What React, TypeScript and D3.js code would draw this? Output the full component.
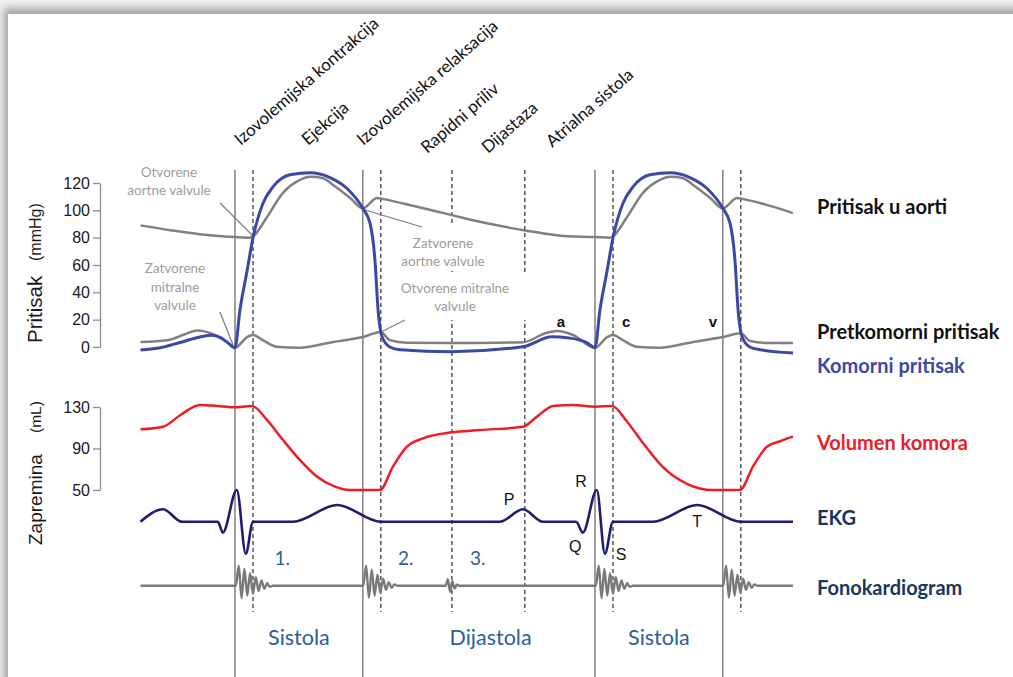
import React, { useEffect, useRef } from "react";
import * as d3 from "d3";

const W = 1013;
const H = 677;

// Time axis in ms, measured from mitral valve closure of the first beat
const timeDomain: [number, number] = [-210, 1240];
const pressureTicks = [0, 20, 40, 60, 80, 100, 120];
const volumeTicks = [50, 90, 130];

// Event markers (ms)
const valveEvents = [0, 284, 800, 1084];
const phaseBoundaries = [40, 324, 482, 644, 840, 1124];

// Aortic pressure (mmHg)
const aorticPressure: [number, number][] = [
  [-210, 89], [-144, 85.5], [-78, 82.5], [0, 80.5], [33, 80], [40, 81],
  [71, 95], [107, 113], [140, 121.5], [168, 124.5], [196, 123.5], [218, 118.5],
  [256, 109], [284, 101.5], [316, 109], [330, 108.2], [400, 103], [482, 96.5],
  [560, 90.5], [642, 85.5], [738, 81], [800, 80.5], [833, 80], [840, 81],
  [871, 95], [907, 113], [940, 121.5], [968, 124.5], [996, 123.5], [1018, 118.5],
  [1056, 109], [1084, 101.5], [1116, 109], [1130, 108.2], [1240, 98],
];

// Ventricular pressure (mmHg)
const ventricularPressure: [number, number][] = [
  [-210, -2.2], [-170, -0.8], [-120, 3.5], [-78, 7.3], [-52, 8.6], [-32, 6.8],
  [-18, 3.7], [0, -0.5], [11, 27], [27, 56], [40, 80], [62, 105], [84, 117],
  [122, 126], [167, 127.5], [211, 124], [249, 116], [284, 101.5], [300, 90.7],
  [311, 63.6], [318, 27], [327, 7.3], [344, 0], [367, -2], [480, -3.4],
  [640, 0.2], [704, 7.5], [742, 6.6], [782, 3.2], [800, -0.5], [811, 27],
  [827, 56], [840, 80], [862, 105], [884, 117], [922, 126], [967, 127.5],
  [1011, 124], [1049, 116], [1084, 101.5], [1100, 90.7], [1111, 63.6],
  [1118, 27], [1127, 7.3], [1144, 0], [1167, -2], [1240, -4.4],
];

// Left atrial pressure (mmHg)
const atrialPressure: [number, number][] = [
  [-210, 3.7], [-150, 5], [-110, 9.5], [-84, 12], [-50, 9.5], [-18, 3.7],
  [0, -0.5], [27, 7.3], [40, 8.8], [62, 5], [93, 0.2], [144, -0.5], [218, 3.7],
  [284, 7.3], [324, 11], [344, 5], [382, 3.1], [482, 2.9], [640, 3.5],
  [690, 10], [716, 11.7], [751, 8.8], [800, -0.7], [827, 7.3], [840, 8.8],
  [862, 5], [893, 0.2], [944, -0.5], [1018, 3.7], [1084, 7.3], [1124, 10],
  [1144, 4.5], [1180, 3], [1240, 2.9],
];

// Ventricular volume (mL)
const ventricularVolume: [number, number][] = [
  [-210, 108.5], [-160, 111], [-122, 122], [-78, 132], [-40, 131], [-4, 129.7],
  [38, 131], [71, 117.5], [107, 98], [144, 79], [182, 63], [218, 54], [256, 50],
  [322, 50], [351, 72.5], [382, 91.7], [418, 99.8], [482, 105.6], [544, 107.8],
  [640, 111], [671, 120.7], [707, 131], [751, 132], [800, 130.3], [838, 131],
  [871, 116], [907, 95], [951, 72], [1004, 56], [1062, 50], [1122, 50],
  [1151, 72.5], [1182, 91.7], [1211, 97], [1240, 101.4],
];

// ECG (mV)
const ecg: [number, number][] = [
  [-210, 0], [-160, 0.39], [-118, 0], [-38, 0], [-27, -0.34], [4, 0.99],
  [24, -1.0], [40, 0], [129, 0], [227, 0.52], [324, 0], [589, 0], [640, 0.39],
  [684, 0], [758, 0], [773, -0.34], [804, 0.99], [822, -1.0], [840, 0],
  [929, 0], [1027, 0.52], [1124, 0], [1240, 0],
];

// Heart sounds: onset (ms), spacing between extrema (ms), extrema amplitudes
const firstSound = [1.0, -0.62, 0.85, -0.5, 0.62, -0.4, 0.42, -0.26, 0.26, -0.15, 0.12, -0.06];
const secondSound = [1.0, -0.6, 0.8, -0.5, 0.55, -0.35, 0.35, -0.2, 0.18, -0.1, 0.06];
const thirdSound = [0.33, -0.3, 0.22, -0.14, 0.06];
const heartSounds = [
  { onset: 2, step: 6.3, amps: firstSound },
  { onset: 285, step: 6.3, amps: secondSound },
  { onset: 468, step: 5, amps: thirdSound },
  { onset: 802, step: 6.3, amps: firstSound },
  { onset: 1085, step: 6.3, amps: secondSound },
];

const phaseNames = [
  "Izovolemijska kontrakcija",
  "Ejekcija",
  "Izovolemijska relaksacija",
  "Rapidni priliv",
  "Dijastaza",
  "Atrialna sistola",
];
const phaseLabelTimes = [13, 162, 285, 427, 562, 705];

const seriesNames = [
  "Pritisak u aorti",
  "Pretkomorni pritisak",
  "Komorni pritisak",
  "Volumen komora",
  "EKG",
  "Fonokardiogram",
];

const waveLetters = ["a", "c", "v"];
const waveLetterTimes = [724, 869, 1062];
const ecgLetters = ["P", "R", "Q", "S", "T"];
const ecgLetterTimes = [609, 769, 756, 858, 1027];

const soundNumbers = ["1.", "2.", "3."];
const soundNumberTimes = [88, 362, 522];
const cycleNames = ["Sistola", "Dijastola", "Sistola"];
const cycleTimes = [142, 568, 942];

const GRAY = "#808080";
const BLUE = "#3d48a6";
const RED = "#ee1d23";
const NAVY = "#1c1f6e";
const TEXT_BLUE = "#2c5d9c";
const NOTE = "#9c9c9c";
const CAL = "Lato, 'Open Sans', sans-serif";
const ARIAL = "'Liberation Sans', Arial, sans-serif";

const x = d3.scaleLinear().domain(timeDomain).range([140.5, 793]);
const yP = d3.scaleLinear().domain([0, 120]).range([347, 183]);
const yV = d3.scaleLinear().domain([50, 130]).range([490, 407]);
const yE = d3.scaleLinear().domain([-1, 1]).range([553.7, 489.7]);
const yS = d3.scaleLinear().domain([-1, 1]).range([605.7, 565.7]);

function soundTrace(): [number, number][] {
  const pts: [number, number][] = [[timeDomain[0], 0]];
  for (const s of heartSounds) {
    pts.push([s.onset, 0]);
    s.amps.forEach((a, i) => pts.push([s.onset + (i + 1) * s.step, a]));
    pts.push([s.onset + (s.amps.length + 1) * s.step, 0]);
  }
  pts.push([timeDomain[1], 0]);
  return pts;
}

export default function App() {
  const pAxis = useRef<SVGGElement>(null);
  const vAxis = useRef<SVGGElement>(null);

  useEffect(() => {
    const style = (g: d3.Selection<SVGGElement, unknown, null, undefined>) => {
      g.select(".domain").attr("stroke", "#8c8c8c").attr("stroke-width", 1.3);
      g.selectAll(".tick line").attr("stroke", "#8c8c8c").attr("stroke-width", 1.3);
      g.selectAll(".tick text")
        .attr("font-family", ARIAL)
        .attr("font-size", 16)
        .attr("fill", "#1a1a1a");
    };
    const gp = d3.select(pAxis.current!);
    gp.call(d3.axisLeft(yP).tickValues(pressureTicks).tickSize(7).tickSizeOuter(0).tickPadding(3));
    style(gp);
    const gv = d3.select(vAxis.current!);
    gv.call(d3.axisLeft(yV).tickValues(volumeTicks).tickSize(7).tickSizeOuter(0).tickPadding(3));
    style(gv);
  }, []);

  const lineP = d3.line<[number, number]>().x((d) => x(d[0])).y((d) => yP(d[1])).curve(d3.curveMonotoneX);
  const lineV = d3.line<[number, number]>().x((d) => x(d[0])).y((d) => yV(d[1])).curve(d3.curveMonotoneX);
  const lineE = d3.line<[number, number]>().x((d) => x(d[0])).y((d) => yE(d[1])).curve(d3.curveMonotoneX);
  const lineS = d3.line<[number, number]>().x((d) => x(d[0])).y((d) => yS(d[1])).curve(d3.curveMonotoneX);

  const phaseDrop = [146, 146, 146, 154, 154, 148];
  const seriesY = [214, 339, 373, 450, 525, 595];
  const seriesColor = ["#111", "#111", BLUE, RED, "#17375e", "#17375e"];

  return (
    <svg width={W} height={H} style={{ position: "absolute", left: 0, top: 0 }}>
      <defs>
        <filter id="cardShadow" x="-10%" y="-10%" width="120%" height="120%">
          <feGaussianBlur stdDeviation="4" />
        </filter>
      </defs>
      <rect width={W} height={H} fill="#f1f1f1" />
      <rect x={4} y={8} width={W + 40} height={H + 40} fill="#a2a2a2" filter="url(#cardShadow)" />
      <rect x={8} y={14} width={W} height={H} fill="#ffffff" />

      {/* phase names */}
      {phaseNames.map((t, i) => (
        <text
          key={t}
          transform={`translate(${x(phaseLabelTimes[i])},${phaseDrop[i]}) rotate(-41)`}
          fontFamily={CAL}
          fontSize={17}
          fill="#111"
        >
          {t}
        </text>
      ))}

      {/* event lines */}
      {valveEvents.map((t) => (
        <line key={"s" + t} x1={x(t)} x2={x(t)} y1={170} y2={H} stroke={GRAY} strokeWidth={1.5} />
      ))}
      {phaseBoundaries.map((t) => (
        <line key={"d" + t} x1={x(t)} x2={x(t)} y1={170} y2={612} stroke="#555" strokeWidth={1.5} strokeDasharray="4,3" />
      ))}

      {/* axes */}
      <g ref={pAxis} transform="translate(100,0)" />
      <g ref={vAxis} transform="translate(100,0)" />
      <g fontFamily={ARIAL} fill="#1a1a1a">
        <text transform="translate(42,343) rotate(-90)" fontSize={20.5}>Pritisak</text>
        <text transform="translate(41,261) rotate(-90)" fontSize={16}>(mmHg)</text>
        <text transform="translate(42,545) rotate(-90)" fontSize={19}>Zapremina</text>
        <text transform="translate(41,433) rotate(-90)" fontSize={15.5}>(mL)</text>
      </g>

      {/* valve annotations */}
      <g fontFamily={CAL} fontSize={13.5} fill={NOTE} textAnchor="middle">
        <text x={169} y={177}>Otvorene</text>
        <text x={169} y={195}>aortne valvule</text>
        <text x={175} y={273}>Zatvorene</text>
        <text x={175} y={292}>mitralne</text>
        <text x={175} y={310}>valvule</text>
        <rect x={397} y={226} width={94} height={45} fill="#fff" />
        <rect x={392} y={272} width={137} height={48} fill="#fff" />
        <text x={443} y={248}>Zatvorene</text>
        <text x={443} y={266}>aortne valvule</text>
        <text x={455} y={293}>Otvorene mitralne</text>
        <text x={455} y={311}>valvule</text>
      </g>
      <g stroke={GRAY} strokeWidth={1.3}>
        <line x1={220} y1={203} x2={253} y2={236} />
        <line x1={220} y1={312} x2={233} y2={345} />
        <line x1={365} y1={210} x2={422} y2={227} />
        <line x1={381} y1={332} x2={405} y2={320} />
      </g>

      {/* pressure curves */}
      <path d={lineP(aorticPressure)!} fill="none" stroke={GRAY} strokeWidth={2.5} />
      <path d={lineP(atrialPressure)!} fill="none" stroke={GRAY} strokeWidth={2.5} />
      <path d={lineP(ventricularPressure)!} fill="none" stroke={BLUE} strokeWidth={3} />
      <g fontFamily={ARIAL} fontWeight="bold" fontSize={15} fill="#111" textAnchor="middle">
        {waveLetters.map((l, i) => (
          <text key={l} x={x(waveLetterTimes[i])} y={yP(15)}>{l}</text>
        ))}
      </g>

      {/* volume */}
      <path d={lineV(ventricularVolume)!} fill="none" stroke={RED} strokeWidth={2.5} />

      {/* ECG */}
      <path d={lineE(ecg)!} fill="none" stroke={NAVY} strokeWidth={2.6} />
      <g fontFamily={ARIAL} fontSize={16} fill="#111" textAnchor="middle">
        {ecgLetters.map((l, i) => (
          <text key={l} x={x(ecgLetterTimes[i])} y={[505, 487, 552, 560, 527][i]}>{l}</text>
        ))}
      </g>

      {/* phonocardiogram */}
      <path d={lineS(soundTrace())!} fill="none" stroke="#7a7a7a" strokeWidth={2.4} />
      <g fontFamily={CAL} fill={TEXT_BLUE}>
        {soundNumbers.map((l, i) => (
          <text key={l} x={x(soundNumberTimes[i])} y={565} fontSize={19}>{l}</text>
        ))}
        {cycleNames.map((l, i) => (
          <text key={i} x={x(cycleTimes[i])} y={645} fontSize={21.5} textAnchor="middle">{l}</text>
        ))}
      </g>

      {/* series names */}
      <g fontFamily={CAL} fontWeight="bold" fontSize={20}>
        {seriesNames.map((n, i) => (
          <text key={n} x={817} y={seriesY[i]} fill={seriesColor[i]}>{n}</text>
        ))}
      </g>
    </svg>
  );
}
